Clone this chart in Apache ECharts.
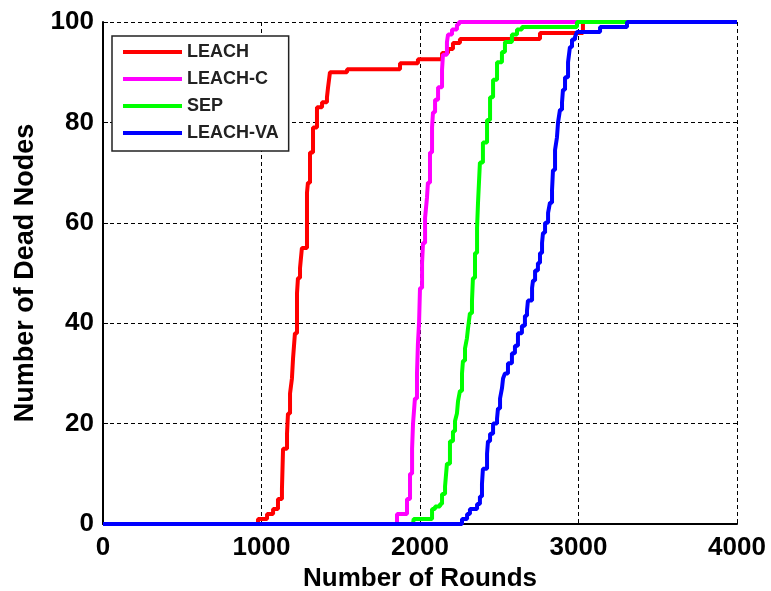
<!DOCTYPE html>
<html>
<head>
<meta charset="utf-8">
<script src="https://cdn.jsdelivr.net/npm/echarts@6/dist/echarts.min.js"></script>
<style>
html,body{margin:0;padding:0;background:#fff;}
#chart{width:771px;height:591px;}
</style>
</head>
<body>
<div id="chart"></div>
<script>
var seriesNames = ['LEACH', 'LEACH-C', 'SEP', 'LEACH-VA'];
var seriesColors = ['#ff0000', '#ff00ff', '#00ff00', '#0000ff'];
var xTicks = [0, 1000, 2000, 3000, 4000];
var yTicks = [0, 20, 40, 60, 80, 100];

var leach = [[0,0],[978,1],[1035,2],[1073,3],[1104,5],[1129,7],[1136,15],[1161,18],[1167,22],[1180,26],[1192,29],[1199,33],[1211,38],[1224,46],[1230,49],[1243,51],[1255,55],[1287,66],[1293,68],[1306,74],[1325,79],[1350,83],[1382,84],[1413,85],[1420,87],[1432,90],[1540,90.6],[1874,91.8],[1987,92.6],[2139,93.8],[2177,94.6],[2208,95.8],[2252,96.6],[2757,97.8],[3028,100],[4000,100]];
var leachC = [[0,0],[1830,0],[1855,2],[1905,2],[1918,5],[1937,10],[1950,15],[1956,20],[1968,25],[1981,30],[1987,36],[1994,40],[2000,47],[2013,52],[2019,56],[2032,61],[2044,65],[2050,68],[2063,74],[2076,79],[2082,82],[2095,84.5],[2114,87],[2139,90.5],[2145,93.5],[2170,96],[2177,97.5],[2202,98.5],[2233,99.5],[2246,100],[4000,100]];
var sep = [[0,0],[1956,0],[1960,1],[2076,3],[2095,3.5],[2126,4],[2139,6],[2158,7.5],[2170,12],[2189,16.5],[2208,18.5],[2221,20.5],[2233,22],[2240,24.5],[2252,26.5],[2265,30],[2271,32.5],[2284,35],[2296,37],[2303,39],[2315,42],[2328,44.5],[2334,49],[2347,54],[2360,59],[2366,64],[2378,72],[2397,76],[2423,80.5],[2442,85],[2461,88.5],[2486,92],[2517,94],[2536,96],[2580,97.5],[2612,98.5],[2643,99],[2990,100],[4000,100]];
var leachVA = [[0,0],[2252,0],[2265,1],[2297,2],[2315,3],[2360,4],[2378,5.5],[2391,8],[2397,11],[2423,14],[2429,16.5],[2442,18],[2461,20],[2486,21],[2492,23],[2505,25],[2517,27],[2524,29],[2536,30],[2555,32],[2580,34],[2599,35.5],[2618,38],[2643,39.5],[2662,41.5],[2675,42.5],[2681,44.5],[2707,47],[2713,48.5],[2726,50.5],[2744,52],[2757,54],[2770,56],[2776,58],[2789,60],[2808,62],[2820,64],[2833,66.5],[2839,70.5],[2852,74.5],[2864,77],[2871,80],[2883,82.5],[2896,84],[2902,86.5],[2915,89],[2934,92],[2946,95],[2959,96.5],[2978,97],[2990,98],[3136,99],[3306,100],[4000,100]];

var allData = [leach, leachC, sep, leachVA];

var chart = echarts.init(document.getElementById('chart'), null, {renderer: 'canvas'});
var gridLine = {show: true, lineStyle: {color: '#000', width: 1, type: [4, 3]}};
var option = {
  backgroundColor: '#fff',
  animation: false,
  grid: {left: 103, right: 34, top: 22, bottom: 67, containLabel: false, outerBoundsMode: 'none'},
  legend: {
    orient: 'vertical',
    left: 112, top: 36,
    padding: [6, 10, 8, 11],
    itemGap: 7,
    itemWidth: 59,
    itemHeight: 4,
    icon: 'rect',
    backgroundColor: '#fff',
    borderColor: '#222',
    borderWidth: 1.5,
    borderRadius: 0,
    data: seriesNames,
    textStyle: {fontFamily: 'Liberation Sans, Arial, sans-serif', fontWeight: 'bold', fontSize: 18, color: '#222', lineHeight: 20}
  },
  xAxis: {
    type: 'value', min: xTicks[0], max: xTicks[xTicks.length - 1], interval: 1000,
    name: 'Number of Rounds', nameLocation: 'middle', nameGap: 34,
    nameTextStyle: {fontFamily: 'Liberation Sans, Arial, sans-serif', fontWeight: 'bold', fontSize: 26, color: '#000'},
    axisLine: {show: true, onZero: false, lineStyle: {color: '#000', width: 2}},
    axisTick: {show: true, inside: true, length: 5, lineStyle: {color: '#000', width: 1}},
    axisLabel: {margin: 11, fontFamily: 'Liberation Sans, Arial, sans-serif', fontWeight: 'bold', fontSize: 26, color: '#000',
      formatter: function (v) { return String(v); }},
    splitLine: gridLine
  },
  yAxis: {
    type: 'value', min: yTicks[0], max: yTicks[yTicks.length - 1], interval: 20,
    name: 'Number of Dead Nodes', nameLocation: 'middle', nameGap: 64,
    nameTextStyle: {fontFamily: 'Liberation Sans, Arial, sans-serif', fontWeight: 'bold', fontSize: 27, color: '#000'},
    axisLine: {show: true, onZero: false, lineStyle: {color: '#000', width: 2}},
    axisTick: {show: true, inside: true, length: 5, lineStyle: {color: '#000', width: 1}},
    axisLabel: {margin: 9, fontFamily: 'Liberation Sans, Arial, sans-serif', fontWeight: 'bold', fontSize: 26, color: '#000',
      formatter: function (v) { return String(v); }},
    splitLine: gridLine
  },
  series: seriesNames.map(function (n, i) {
    return {
      name: n, type: 'line', step: 'end', showSymbol: false, symbol: 'none',
      data: allData[i],
      lineStyle: {color: seriesColors[i], width: 4},
      itemStyle: {color: seriesColors[i]},
      z: 2 + i
    };
  })
};
chart.setOption(option);
</script>
</body>
</html>
